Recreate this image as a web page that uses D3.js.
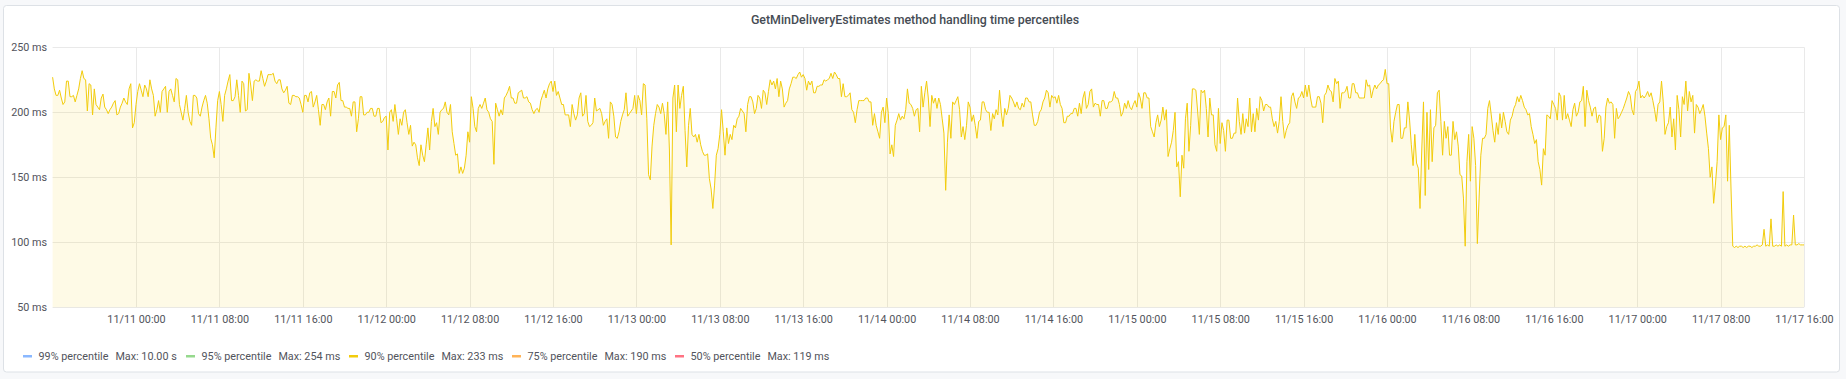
<!DOCTYPE html>
<html><head><meta charset="utf-8">
<script src="https://cdn.jsdelivr.net/npm/d3@7"></script>
<style>
html,body{margin:0;padding:0;background:#f7f8fa;}
svg{display:block;font-family:Roboto,"Helvetica Neue",Arial,sans-serif;}
</style></head><body>
<svg id="chart" width="1846" height="379"></svg>
<script>
// ---------------- data ----------------
const chartTitle = "GetMinDeliveryEstimates method handling time percentiles";
const startTime = Date.UTC(2020, 10, 10, 16, 0);   // 11/10 16:00
const stepMinutes = 10;
// 90% percentile, ms, one value every 10 minutes (11/10 16:00 .. 11/17 16:00)
const p90Values = [
227,218,213,213,217,211,206,208,224,224, 212,212,213,208,213,218,226,232,226,225,
201,222,221,198,218,206,204,202,211,214, 204,202,199,202,204,207,209,198,199,204,
207,211,208,206,218,222,188,192,206,216, 222,217,212,221,218,212,225,218,213,197,
202,209,200,216,218,220,200,216,218,213, 208,226,225,206,200,194,203,213,200,193,
190,213,213,211,199,197,204,209,213,207, 195,180,175,165,188,209,216,206,193,213,
218,224,229,209,209,212,225,213,200,224, 222,201,202,230,221,209,224,225,224,224,
232,226,220,224,229,229,229,230,224,222, 225,225,218,215,217,220,207,206,213,213,
212,212,211,206,200,213,213,208,215,216, 204,208,213,202,190,206,206,202,208,211,
197,216,216,211,221,223,209,209,204,204, 203,203,197,208,208,185,195,212,212,198,
198,200,200,203,203,197,197,203,203,192, 193,196,197,171,200,202,193,206,195,183,
195,190,200,202,192,183,190,174,177,175, 165,159,175,167,162,175,188,171,193,203,
189,192,183,200,202,203,208,200,198,206, 185,176,167,168,153,158,153,157,167,185,
177,212,203,189,185,203,206,203,207,211, 202,200,195,193,160,207,202,197,202,198,
211,213,216,220,211,211,207,207,215,216, 217,211,211,212,208,207,202,199,202,203,
200,209,213,217,211,218,222,224,216,224, 213,216,211,206,206,198,198,198,189,206,
199,194,198,211,215,197,199,213,193,189, 190,192,211,201,202,203,199,190,193,195,
180,208,206,197,181,180,185,193,198,202, 215,197,199,201,203,213,199,213,209,198,
222,221,195,152,148,174,190,199,206,204, 199,207,199,183,208,171,98,211,221,185,
221,203,213,220,186,158,190,203,183,181, 183,177,183,175,170,167,167,168,149,141,
126,144,167,172,183,202,185,167,188,176, 183,179,190,188,195,197,203,201,199,185,
206,212,212,208,199,203,213,211,203,217, 215,206,216,225,221,224,218,226,212,224,
218,204,207,209,218,222,227,227,226,229, 231,227,229,226,217,224,221,224,215,215,
220,220,221,221,225,224,225,226,230,226, 231,229,226,226,212,222,212,212,213,215,
202,200,192,202,209,209,209,209,211,211, 208,208,190,199,190,185,180,200,204,192,
211,199,168,175,166,190,194,199,194,197, 195,202,218,207,206,203,197,202,203,185,
220,204,215,224,211,189,213,207,211,203, 211,206,195,184,140,177,198,180,208,206,
209,212,202,181,189,179,190,208,204,193, 198,190,180,193,194,208,208,202,200,200,
186,199,195,202,198,217,200,189,203,198, 203,213,211,208,204,208,203,202,207,204,
211,211,208,208,198,190,190,193,200,202, 208,211,217,215,204,213,211,212,207,213,
206,203,192,192,197,197,199,199,203,203, 197,207,199,211,216,203,206,216,218,204,
207,206,206,197,209,209,203,203,208,208, 209,216,211,211,206,197,200,207,203,209,
204,202,206,209,204,215,211,203,215,215, 211,211,189,185,181,192,198,189,194,204,
194,202,166,172,177,186,200,158,162,135, 167,157,195,207,170,190,218,218,217,201,
183,217,215,217,203,181,211,198,198,175, 170,203,176,192,186,170,194,194,180,180,
184,184,211,193,183,199,184,195,189,211, 185,199,185,203,194,212,209,201,206,206,
204,204,195,189,193,184,193,212,193,180, 186,190,192,212,215,208,203,211,212,216,
211,221,212,221,211,204,204,204,212,212, 207,192,213,215,221,217,216,208,226,222,
224,203,215,215,216,220,211,211,222,222, 215,215,211,211,211,211,225,220,221,211,
217,221,218,221,222,224,225,233,222,222, 188,177,193,200,206,206,180,180,188,188,
208,194,175,159,183,161,157,126,171,208, 136,200,156,202,162,188,190,215,217,193,
167,193,180,189,167,167,193,179,185,174, 152,151,134,97,162,183,147,189,180,159,
99,134,167,180,180,183,203,209,198,186, 177,192,183,199,188,200,193,185,183,194,
197,203,206,212,208,213,209,204,202,198, 199,189,183,176,179,162,156,144,172,167,
198,197,195,209,206,203,194,215,212,194, 213,195,199,194,189,202,207,197,200,208,
209,220,189,217,209,204,197,203,204,192, 198,197,170,180,204,211,207,208,206,180,
203,195,197,200,203,207,211,216,213,202, 198,216,218,224,211,213,211,213,216,212,
215,209,202,193,206,208,224,208,183,189, 192,204,181,195,171,213,202,181,212,206,
224,201,216,208,213,184,206,204,199,202, 206,197,184,172,150,158,130,144,162,198,
179,188,189,198,147,190,141,97,96,97, 96,97,97,96,97,96,97,97,96,97,
97,98,97,97,98,110,97,98,97,118, 97,97,98,97,98,97,139,97,98,97,
98,98,121,98,98,99,98,98,98
];
const yTickValues = [50, 100, 150, 200, 250];
const legendNames = ["99% percentile", "95% percentile", "90% percentile", "75% percentile", "50% percentile"];
const legendMax = ["10.00 s", "254 ms", "233 ms", "190 ms", "119 ms"];
const legendColors = ["#8AB8FF", "#96D98D", "#F2CC0C", "#FFB357", "#FF7383"];

// ---------------- layout ----------------
const plot = {left: 52.6, right: 1804, top: 47.3, bottom: 307.3};
const svg = d3.select("#chart");

svg.append("rect").attr("x", 3.5).attr("y", 5.5).attr("width", 1836).attr("height", 366.5)
  .attr("rx", 3).attr("fill", "#ffffff").attr("stroke", "#dde1e6");

svg.append("text").attr("x", 915).attr("y", 23.5).attr("text-anchor", "middle")
  .attr("font-size", "12.4px").attr("font-weight", 500).attr("fill", "#464c54")
  .text(chartTitle);

const series = p90Values.map((v, i) => ({t: new Date(startTime + i * stepMinutes * 60000), v}));
const x = d3.scaleUtc().domain([series[0].t, series[series.length - 1].t]).range([plot.left, plot.right]);
const y = d3.scaleLinear().domain([50, 250]).range([plot.bottom, plot.top]);

const xTicks = x.ticks(d3.utcHour.every(8)).filter(d => d > x.domain()[0]);

// grid
const grid = svg.append("g").attr("stroke", "#e9e9e9").attr("stroke-width", 1);
grid.selectAll(".hg").data(yTickValues).join("line")
  .attr("x1", plot.left).attr("x2", plot.right)
  .attr("y1", d => Math.round(y(d)) + 0.5).attr("y2", d => Math.round(y(d)) + 0.5);
grid.selectAll(".vg").data(xTicks).join("line")
  .attr("y1", plot.top).attr("y2", plot.bottom)
  .attr("x1", d => Math.round(x(d)) + 0.5).attr("x2", d => Math.round(x(d)) + 0.5);

// area + line
const area = d3.area().x(d => x(d.t)).y0(plot.bottom).y1(d => y(d.v));
const line = d3.line().x(d => x(d.t)).y(d => y(d.v));
svg.append("path").datum(series).attr("d", area).attr("fill", "#F2CC0C").attr("fill-opacity", 0.1);
svg.append("path").datum(series).attr("d", line).attr("fill", "none")
  .attr("stroke", "#F2CC0C").attr("stroke-width", 1).attr("stroke-linejoin", "round");

// axes
const fmt = d3.utcFormat("%m/%d %H:%M");
const xAxis = svg.append("g").attr("transform", `translate(0,${plot.bottom})`)
  .call(d3.axisBottom(x).tickValues(xTicks).tickFormat(fmt).tickSize(0).tickPadding(8));
const yAxis = svg.append("g").attr("transform", `translate(${plot.left},0)`)
  .call(d3.axisLeft(y).tickValues(yTickValues).tickFormat(d => d + " ms").tickSize(0).tickPadding(5.5));
[xAxis, yAxis].forEach(g => {
  g.select(".domain").remove();
  g.selectAll("text").attr("fill", "#52545c").attr("font-size", "10.8px")
    .attr("font-family", "Roboto,'Helvetica Neue',Arial,sans-serif");
});

// legend
const lg = svg.append("g").attr("font-size", "10.8px").attr("fill", "#52545c");
legendNames.forEach((name, i) => {
  const x0 = 23 + i * 163;
  lg.append("rect").attr("x", x0).attr("y", 355).attr("width", 9).attr("height", 2.5)
    .attr("fill", legendColors[i]);
  const t = lg.append("text").attr("x", x0 + 15.5).attr("y", 360).text(name);
  const w = t.node().getComputedTextLength();
  lg.append("text").attr("x", x0 + 15.5 + w + 7).attr("y", 360).text("Max: " + legendMax[i]);
});
</script>
</body></html>
